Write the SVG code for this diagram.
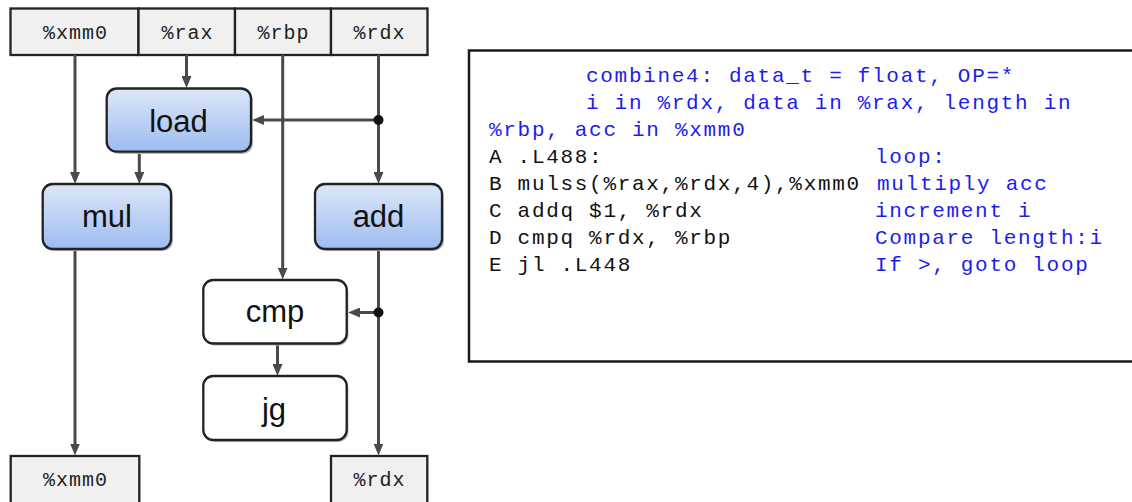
<svg xmlns="http://www.w3.org/2000/svg" width="1132" height="502" viewBox="0 0 1132 502">
<defs>
<linearGradient id="blueg" x1="0" y1="0" x2="0" y2="1">
<stop offset="0" stop-color="#dde7f8"/>
<stop offset="1" stop-color="#9dbcf1"/>
</linearGradient>
<marker id="arr" viewBox="0 0 12 10" refX="2" refY="5" markerWidth="12" markerHeight="10" markerUnits="userSpaceOnUse" orient="auto">
<path d="M0,0 L12,5 L0,10 z" fill="#4a4a4a"/>
</marker>
</defs>
<style>
.reg{fill:#f0f0f0;stroke:#222;stroke-width:2.3}
.regt{font-family:"Liberation Mono",monospace;font-size:20px;letter-spacing:1px;fill:#222;text-anchor:middle}
.op{stroke:#222;stroke-width:2.3}
.blue{fill:url(#blueg)}
.white{fill:#fff}
.shadow{fill:#b8b8b8;stroke:none}
.opt{font-family:"Liberation Sans",Arial,sans-serif;font-size:31px;fill:#111;text-anchor:middle}
.ln{stroke:#4a4a4a;stroke-width:3;fill:none}
.dot{fill:#111}
.code{font-family:"Liberation Mono",monospace;font-size:21px;letter-spacing:1.7px}
.k{fill:#111}
.c{fill:#1c1cf0}
</style>
<g id="regs-top">
<rect class="reg" x="10.5" y="8.5" width="128" height="46.5"/>
<rect class="reg" x="138.5" y="8.5" width="96.5" height="46.5"/>
<rect class="reg" x="235" y="8.5" width="96" height="46.5"/>
<rect class="reg" x="331" y="8.5" width="96.5" height="46.5"/>
<text class="regt" x="75.5" y="38.5">%xmm0</text>
<text class="regt" x="187.5" y="38.5">%rax</text>
<text class="regt" x="283.5" y="38.5">%rbp</text>
<text class="regt" x="379.5" y="38.5">%rdx</text>
</g>
<g id="connectors">
<path class="ln" d="M75,55 V174" marker-end="url(#arr)"/>
<path class="ln" d="M186.5,55 V78" marker-end="url(#arr)"/>
<path class="ln" d="M282.7,55 V269.5" marker-end="url(#arr)"/>
<path class="ln" d="M378.5,55 V174" marker-end="url(#arr)"/>
<path class="ln" d="M378.5,120 H262" marker-end="url(#arr)"/>
<path class="ln" d="M139.3,153 V174" marker-end="url(#arr)"/>
<path class="ln" d="M75,250 V445.5" marker-end="url(#arr)"/>
<path class="ln" d="M378.5,250 V445.5" marker-end="url(#arr)"/>
<path class="ln" d="M378.5,312.5 H358" marker-end="url(#arr)"/>
<path class="ln" d="M277.5,345 V366" marker-end="url(#arr)"/>
<circle class="dot" cx="378.5" cy="120" r="5"/>
<circle class="dot" cx="378.5" cy="312.5" r="5"/>
</g>
<g id="load">
<rect class="shadow" x="108.5" y="90.5" width="144.5" height="63.5" rx="10"/>
<rect class="op blue" x="106.7" y="88.5" width="144.3" height="63.2" rx="10"/>
<text class="opt" x="178.5" y="131.5">load</text>
</g>
<g id="mul">
<rect class="shadow" x="44.5" y="186" width="128.5" height="65" rx="10"/>
<rect class="op blue" x="42.7" y="184" width="128.3" height="65" rx="10"/>
<text class="opt" x="107" y="227">mul</text>
</g>
<g id="add">
<rect class="shadow" x="317" y="186" width="127" height="65" rx="10"/>
<rect class="op blue" x="315" y="184" width="127" height="65" rx="10"/>
<text class="opt" x="378.5" y="227">add</text>
</g>
<g id="cmp">
<rect class="shadow" x="205" y="282" width="143.5" height="63.5" rx="10"/>
<rect class="op white" x="203.3" y="280" width="143.4" height="63.5" rx="10"/>
<text class="opt" x="275" y="322">cmp</text>
</g>
<g id="jg">
<rect class="shadow" x="205" y="378" width="143.5" height="64" rx="10"/>
<rect class="op white" x="203.3" y="376" width="143.4" height="64" rx="10"/>
<text class="opt" x="274" y="420">jg</text>
</g>
<g id="regs-bottom">
<rect class="reg" x="10.7" y="456" width="128.6" height="60"/>
<rect class="reg" x="331" y="456" width="96.3" height="60"/>
<text class="regt" x="75.5" y="485.5">%xmm0</text>
<text class="regt" x="379.5" y="485.5">%rdx</text>
</g>
<g id="code">
<rect x="469" y="50.5" width="700" height="311" fill="#fff" stroke="#1a1a1a" stroke-width="2.5"/>
<text class="code c" x="586" y="82">combine4: data_t = float, OP=*</text>
<text class="code c" x="586" y="109">i in %rdx, data in %rax, length in</text>
<text class="code c" x="489" y="136">%rbp, acc in %xmm0</text>
<text class="code k" x="489" y="163">A .L488:</text>
<text class="code c" x="875" y="163">loop:</text>
<text class="code k" x="489" y="190">B mulss(%rax,%rdx,4),%xmm0</text>
<text class="code c" x="877" y="190">multiply acc</text>
<text class="code k" x="489" y="217">C addq $1, %rdx</text>
<text class="code c" x="875" y="217">increment i</text>
<text class="code k" x="489" y="244">D cmpq %rdx, %rbp</text>
<text class="code c" x="875" y="244">Compare length:i</text>
<text class="code k" x="489" y="271">E jl .L448</text>
<text class="code c" x="875" y="271">If &gt;, goto loop</text>
</g>
</svg>
